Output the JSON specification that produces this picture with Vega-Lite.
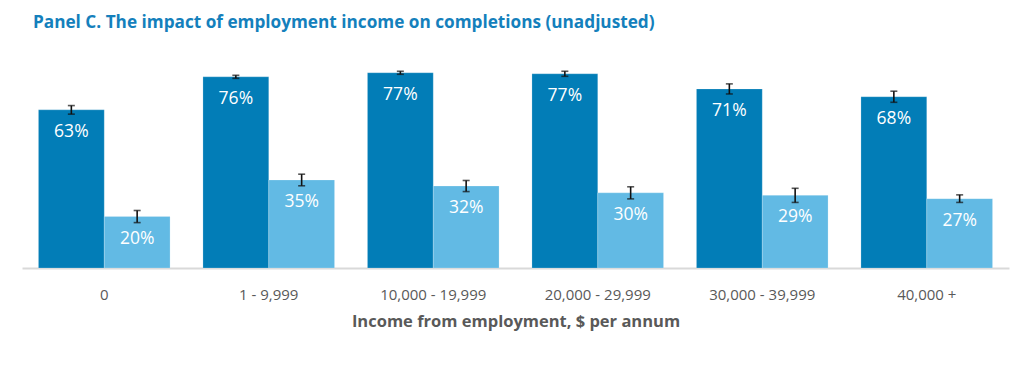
{
  "$schema": "https://vega.github.io/schema/vega-lite/v6.json",
  "width": 987,
  "height": 227,
  "autosize": "none",
  "padding": {"left": 22, "top": 41, "right": 13, "bottom": 97},
  "background": "white",
  "title": {
    "text": "Panel C. The impact of employment income on completions (unadjusted)",
    "anchor": "start",
    "frame": "group",
    "dx": 11,
    "offset": 10,
    "font": "Open Sans",
    "fontSize": 17.2,
    "fontWeight": "bold",
    "color": "#1480BC"
  },
  "config": {"view": {"stroke": null}},
  "data": {
    "values": [
      {"income": "0", "series": "Series 1", "value": 62.7, "lo": 61.0, "hi": 64.4, "label": "63%"},
      {"income": "0", "series": "Series 2", "value": 20.4, "lo": 18.0, "hi": 22.8, "label": "20%"},
      {"income": "1 - 9,999", "series": "Series 1", "value": 75.8, "lo": 75.2, "hi": 76.4, "label": "76%"},
      {"income": "1 - 9,999", "series": "Series 2", "value": 34.9, "lo": 32.6, "hi": 37.2, "label": "35%"},
      {"income": "10,000 - 19,999", "series": "Series 1", "value": 77.4, "lo": 76.8, "hi": 78.0, "label": "77%"},
      {"income": "10,000 - 19,999", "series": "Series 2", "value": 32.5, "lo": 30.3, "hi": 34.7, "label": "32%"},
      {"income": "20,000 - 29,999", "series": "Series 1", "value": 77.0, "lo": 76.0, "hi": 78.0, "label": "77%"},
      {"income": "20,000 - 29,999", "series": "Series 2", "value": 29.8, "lo": 27.4, "hi": 32.2, "label": "30%"},
      {"income": "30,000 - 39,999", "series": "Series 1", "value": 71.0, "lo": 69.0, "hi": 73.0, "label": "71%"},
      {"income": "30,000 - 39,999", "series": "Series 2", "value": 28.8, "lo": 26.0, "hi": 31.6, "label": "29%"},
      {"income": "40,000 +", "series": "Series 1", "value": 67.9, "lo": 65.7, "hi": 70.1, "label": "68%"},
      {"income": "40,000 +", "series": "Series 2", "value": 27.5, "lo": 26.0, "hi": 29.0, "label": "27%"}
    ]
  },
  "encoding": {
    "x": {
      "field": "income",
      "type": "nominal",
      "sort": null,
      "scale": {"paddingInner": 0.2, "paddingOuter": 0.1},
      "axis": {
        "title": "Income from employment, $ per annum",
        "labelAngle": 0,
        "labelFont": "Open Sans",
        "labelFontSize": 15,
        "labelColor": "#595959",
        "labelPadding": 19,
        "ticks": false,
        "domainColor": "#D9D9D9",
        "domainWidth": 2,
        "titleFont": "Open Sans",
        "titleFontSize": 16.5,
        "titleFontWeight": "bold",
        "titleColor": "#595959",
        "titlePadding": 11
      }
    },
    "xOffset": {"field": "series", "type": "nominal", "scale": {"paddingInner": 0, "paddingOuter": 0}}
  },
  "layer": [
    {
      "mark": {"type": "bar", "stroke": "white", "strokeWidth": 0.5, "strokeOpacity": 0.4},
      "encoding": {
        "y": {"field": "value", "type": "quantitative", "scale": {"domain": [0, 90]}, "axis": null},
        "color": {
          "field": "series",
          "type": "nominal",
          "scale": {"domain": ["Series 1", "Series 2"], "range": ["#027DB7", "#62BAE4"]},
          "legend": null
        }
      }
    },
    {
      "mark": {"type": "rule", "color": "#111111", "strokeWidth": 1.6},
      "encoding": {
        "y": {"field": "lo", "type": "quantitative"},
        "y2": {"field": "hi"}
      }
    },
    {
      "mark": {"type": "tick", "color": "#111111", "thickness": 1.6, "size": 7, "orient": "horizontal"},
      "encoding": {"y": {"field": "lo", "type": "quantitative"}}
    },
    {
      "mark": {"type": "tick", "color": "#111111", "thickness": 1.6, "size": 7, "orient": "horizontal"},
      "encoding": {"y": {"field": "hi", "type": "quantitative"}}
    },
    {
      "mark": {"type": "text", "color": "white", "font": "Open Sans", "fontSize": 17.5, "baseline": "middle", "dy": 22},
      "encoding": {
        "y": {"field": "value", "type": "quantitative"},
        "text": {"field": "label"}
      }
    }
  ]
}
